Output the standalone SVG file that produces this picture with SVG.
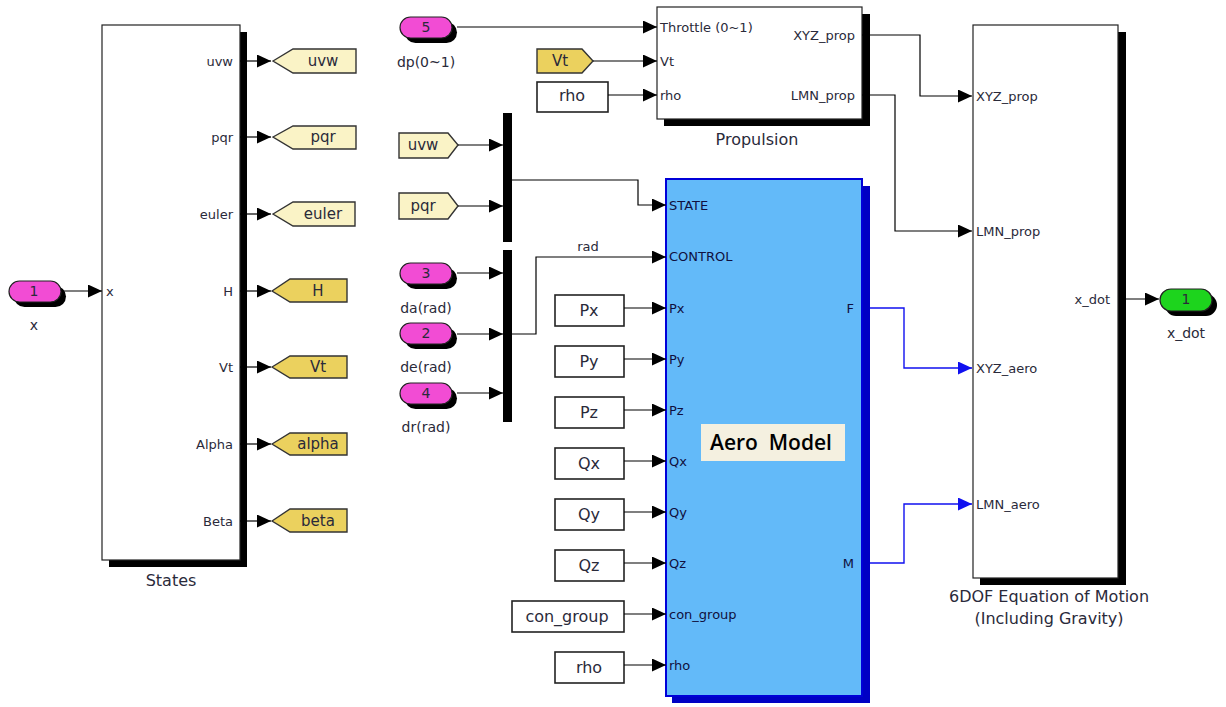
<svg xmlns="http://www.w3.org/2000/svg" width="1226" height="707" viewBox="0 0 1226 707">
<defs>
<style>
text{font-family:"DejaVu Sans","Liberation Sans",sans-serif;fill:#2a2a3a}
.pl{font-size:13px}
.pr{font-size:13px;text-anchor:end}
.ttl{font-size:16px;text-anchor:middle}
.bx{font-size:16px;text-anchor:middle}
.tg{font-size:15px;text-anchor:middle}
.ipl{font-size:14px;text-anchor:middle}
.aero{font-size:13px;fill:#101040}
.blk{fill:#fff;stroke:#222;stroke-width:1.2}
.shd{fill:#000}
.cst{fill:#fff;stroke:#222;stroke-width:1.6}
.gl{fill:#faf3c6;stroke:#333;stroke-width:1.4}
.gd{fill:#ebd15e;stroke:#333;stroke-width:1.4}
.inp{fill:#f24cd4;stroke:#222;stroke-width:1.2}
.outp{fill:#1dd41d;stroke:#222;stroke-width:1.2}
.w{fill:none;stroke:#000;stroke-width:1.2}
.wb{fill:none;stroke:#1010f0;stroke-width:1.4}
</style>
<marker id="ah" markerUnits="userSpaceOnUse" markerWidth="15" markerHeight="13" refX="14" refY="6.5" orient="auto"><path d="M0,0 L14,6.5 L0,13 z" fill="#000"/></marker>
<marker id="ahb" markerUnits="userSpaceOnUse" markerWidth="15" markerHeight="13" refX="14" refY="6.5" orient="auto"><path d="M0,0 L14,6.5 L0,13 z" fill="#1010f0"/></marker>
</defs>
<rect width="1226" height="707" fill="#fff"/>

<!-- States -->
<g id="states">
<rect class="shd" x="109" y="32" width="138" height="535"/>
<rect class="blk" x="102" y="25" width="138" height="535"/>
<text class="pl" x="106" y="296">x</text>
<text class="pr" x="233" y="66">uvw</text>
<text class="pr" x="233" y="142">pqr</text>
<text class="pr" x="233" y="219">euler</text>
<text class="pr" x="233" y="296">H</text>
<text class="pr" x="233" y="372">Vt</text>
<text class="pr" x="233" y="449">Alpha</text>
<text class="pr" x="233" y="526">Beta</text>
<text class="ttl" x="171" y="586">States</text>
</g>

<g id="in_x">
<rect class="shd" x="14" y="286" width="52" height="21" rx="10.5"/>
<rect class="inp" x="9" y="281" width="52" height="21" rx="10.5"/>
<text class="ipl" x="34" y="296">1</text>
<text class="ipl" x="34" y="330">x</text>
</g>

<g id="goto_uvw"><polygon class="gl" points="273,61 293,49 356,49 356,73 293,73"/><text class="tg" x="323" y="66">uvw</text></g>
<g id="goto_pqr"><polygon class="gl" points="273,137 293,126 356,126 356,149 293,149"/><text class="tg" x="323" y="142">pqr</text></g>
<g id="goto_euler"><polygon class="gl" points="273,214 293,202 355,202 355,226 293,226"/><text class="tg" x="323" y="219">euler</text></g>
<g id="goto_H"><polygon class="gd" points="272,291 290,279 347,279 347,302 290,302"/><text class="tg" x="318" y="296">H</text></g>
<g id="goto_Vt"><polygon class="gd" points="272,367 290,356 347,356 347,378 290,378"/><text class="tg" x="318" y="372">Vt</text></g>
<g id="goto_alpha"><polygon class="gd" points="272,444 290,433 347,433 347,455 290,455"/><text class="tg" x="318" y="449">alpha</text></g>
<g id="goto_beta"><polygon class="gd" points="272,521 290,509 347,509 347,532 290,532"/><text class="tg" x="318" y="526">beta</text></g>

<!-- inport 5 -->
<g id="in_dp">
<rect class="shd" x="405" y="22" width="52" height="21" rx="10.5"/>
<rect class="inp" x="400" y="17" width="52" height="21" rx="10.5"/>
<text class="ipl" x="426" y="32">5</text>
<text class="ipl" x="426" y="67">dp(0~1)</text>
</g>
<g id="from_Vt"><polygon class="gd" points="537,49 582,49 593,61 582,73 537,73"/><text class="tg" x="560" y="66">Vt</text></g>
<g id="const_rho1"><rect class="cst" x="537" y="82" width="71" height="30"/><text class="bx" x="572" y="101">rho</text></g>

<!-- Propulsion -->
<g id="propulsion">
<rect class="shd" x="664" y="14" width="206" height="112"/>
<rect class="blk" x="657" y="7" width="205" height="112"/>
<text class="pl" x="660" y="32">Throttle (0~1)</text>
<text class="pl" x="660" y="66">Vt</text>
<text class="pl" x="660" y="100">rho</text>
<text class="pr" x="855" y="40">XYZ_prop</text>
<text class="pr" x="855" y="100">LMN_prop</text>
<text class="ttl" x="757" y="145">Propulsion</text>
</g>

<!-- state mux -->
<g id="from_uvw"><polygon class="gl" points="399,133 448,133 458,145 448,158 399,158"/><text class="tg" x="423" y="150">uvw</text></g>
<g id="from_pqr"><polygon class="gl" points="399,193 448,193 458,206 448,219 399,219"/><text class="tg" x="423" y="211">pqr</text></g>
<g id="mux_state"><rect class="shd" x="503" y="113" width="9" height="129"/></g>

<!-- control inports -->
<g id="in_da">
<rect class="shd" x="405" y="268" width="52" height="21" rx="10.5"/>
<rect class="inp" x="400" y="263" width="52" height="21" rx="10.5"/>
<text class="ipl" x="426" y="278">3</text>
<text class="ipl" x="426" y="313">da(rad)</text>
</g>
<g id="in_de">
<rect class="shd" x="405" y="328" width="52" height="21" rx="10.5"/>
<rect class="inp" x="400" y="323" width="52" height="21" rx="10.5"/>
<text class="ipl" x="426" y="338">2</text>
<text class="ipl" x="426" y="372">de(rad)</text>
</g>
<g id="in_dr">
<rect class="shd" x="405" y="388" width="52" height="21" rx="10.5"/>
<rect class="inp" x="400" y="383" width="52" height="21" rx="10.5"/>
<text class="ipl" x="426" y="398">4</text>
<text class="ipl" x="426" y="432">dr(rad)</text>
</g>
<g id="mux_control"><rect class="shd" x="503" y="250" width="9" height="172"/></g>

<!-- constants -->
<g id="const_Px"><rect class="cst" x="555" y="295" width="69" height="31"/><text class="bx" x="589" y="316">Px</text></g>
<g id="const_Py"><rect class="cst" x="555" y="346" width="69" height="31"/><text class="bx" x="589" y="367">Py</text></g>
<g id="const_Pz"><rect class="cst" x="555" y="397" width="69" height="31"/><text class="bx" x="589" y="418">Pz</text></g>
<g id="const_Qx"><rect class="cst" x="555" y="448" width="69" height="31"/><text class="bx" x="589" y="469">Qx</text></g>
<g id="const_Qy"><rect class="cst" x="555" y="499" width="69" height="31"/><text class="bx" x="589" y="520">Qy</text></g>
<g id="const_Qz"><rect class="cst" x="555" y="550" width="69" height="31"/><text class="bx" x="589" y="571">Qz</text></g>
<g id="const_con_group"><rect class="cst" x="512" y="601" width="112" height="31"/><text class="bx" x="567" y="622">con_group</text></g>
<g id="const_rho2"><rect class="cst" x="555" y="652" width="69" height="31"/><text class="bx" x="589" y="673">rho</text></g>

<!-- Aero Model -->
<g id="aero_model">
<rect x="672" y="186" width="198" height="517" fill="#0000c4"/>
<rect x="666" y="179" width="196" height="517" fill="#63baf9" stroke="#0000d8" stroke-width="2"/>
<text class="pl aero" x="669" y="210">STATE</text>
<text class="pl aero" x="669" y="261">CONTROL</text>
<text class="pl aero" x="669" y="313">Px</text>
<text class="pl aero" x="669" y="364">Py</text>
<text class="pl aero" x="669" y="415">Pz</text>
<text class="pl aero" x="669" y="466">Qx</text>
<text class="pl aero" x="669" y="517">Qy</text>
<text class="pl aero" x="669" y="568">Qz</text>
<text class="pl aero" x="669" y="619">con_group</text>
<text class="pl aero" x="669" y="670">rho</text>
<text class="pr aero" x="854" y="313">F</text>
<text class="pr aero" x="854" y="568">M</text>
<rect x="701" y="424" width="144" height="37" fill="#f4f0e0"/>
<text x="771" y="450" xml:space="preserve" style="font-family:'Open Sans','Liberation Sans',sans-serif;font-size:21px;font-weight:600;fill:#000;text-anchor:middle">Aero  Model</text>
</g>

<!-- 6DOF -->
<g id="eom">
<rect class="shd" x="980" y="32" width="146" height="553"/>
<rect class="blk" x="973" y="25" width="145" height="553"/>
<text class="pl" x="976" y="101">XYZ_prop</text>
<text class="pl" x="976" y="236">LMN_prop</text>
<text class="pl" x="976" y="373">XYZ_aero</text>
<text class="pl" x="976" y="509">LMN_aero</text>
<text class="pr" x="1110" y="304">x_dot</text>
<text class="ttl" x="1049" y="602">6DOF Equation of Motion</text>
<text class="ttl" x="1049" y="624">(Including Gravity)</text>
</g>

<g id="out_xdot">
<rect class="shd" x="1165" y="294" width="52" height="22" rx="11"/>
<rect class="outp" x="1160" y="289" width="52" height="22" rx="11"/>
<text class="ipl" x="1186" y="304">1</text>
<text class="ipl" x="1186" y="338">x_dot</text>
</g>

<!-- connectors -->
<g id="connectors">
<path class="w" d="M61,291 H102" marker-end="url(#ah)"/>
<path class="w" d="M240,61 H271" marker-end="url(#ah)"/>
<path class="w" d="M240,137 H271" marker-end="url(#ah)"/>
<path class="w" d="M240,214 H271" marker-end="url(#ah)"/>
<path class="w" d="M240,291 H271" marker-end="url(#ah)"/>
<path class="w" d="M240,367 H271" marker-end="url(#ah)"/>
<path class="w" d="M240,444 H271" marker-end="url(#ah)"/>
<path class="w" d="M240,521 H271" marker-end="url(#ah)"/>
<path class="w" d="M457,27 H657" marker-end="url(#ah)"/>
<path class="w" d="M593,61 H657" marker-end="url(#ah)"/>
<path class="w" d="M608,95 H657" marker-end="url(#ah)"/>
<path class="w" d="M862,35 H920 V96 H972" marker-end="url(#ah)"/>
<path class="w" d="M862,95 H895 V231 H972" marker-end="url(#ah)"/>
<path class="w" d="M458,145 H503" marker-end="url(#ah)"/>
<path class="w" d="M458,206 H503" marker-end="url(#ah)"/>
<path class="w" d="M512,180 H638 V205 H666" marker-end="url(#ah)"/>
<path class="w" d="M457,273 H503" marker-end="url(#ah)"/>
<path class="w" d="M457,334 H503" marker-end="url(#ah)"/>
<path class="w" d="M457,393 H503" marker-end="url(#ah)"/>
<path class="w" d="M512,334 H536 V257 H666" marker-end="url(#ah)"/>
<text class="pl" x="588" y="251" text-anchor="middle">rad</text>
<path class="w" d="M624,308 H666" marker-end="url(#ah)"/>
<path class="w" d="M624,359 H666" marker-end="url(#ah)"/>
<path class="w" d="M624,410 H666" marker-end="url(#ah)"/>
<path class="w" d="M624,461 H666" marker-end="url(#ah)"/>
<path class="w" d="M624,512 H666" marker-end="url(#ah)"/>
<path class="w" d="M624,563 H666" marker-end="url(#ah)"/>
<path class="w" d="M624,614 H666" marker-end="url(#ah)"/>
<path class="w" d="M624,665 H666" marker-end="url(#ah)"/>
<path class="wb" d="M870,308 H904 V368 H972" marker-end="url(#ahb)"/>
<path class="wb" d="M870,563 H904 V504 H972" marker-end="url(#ahb)"/>
<path class="w" d="M1126,299 H1159" marker-end="url(#ah)"/>
</g>
</svg>
